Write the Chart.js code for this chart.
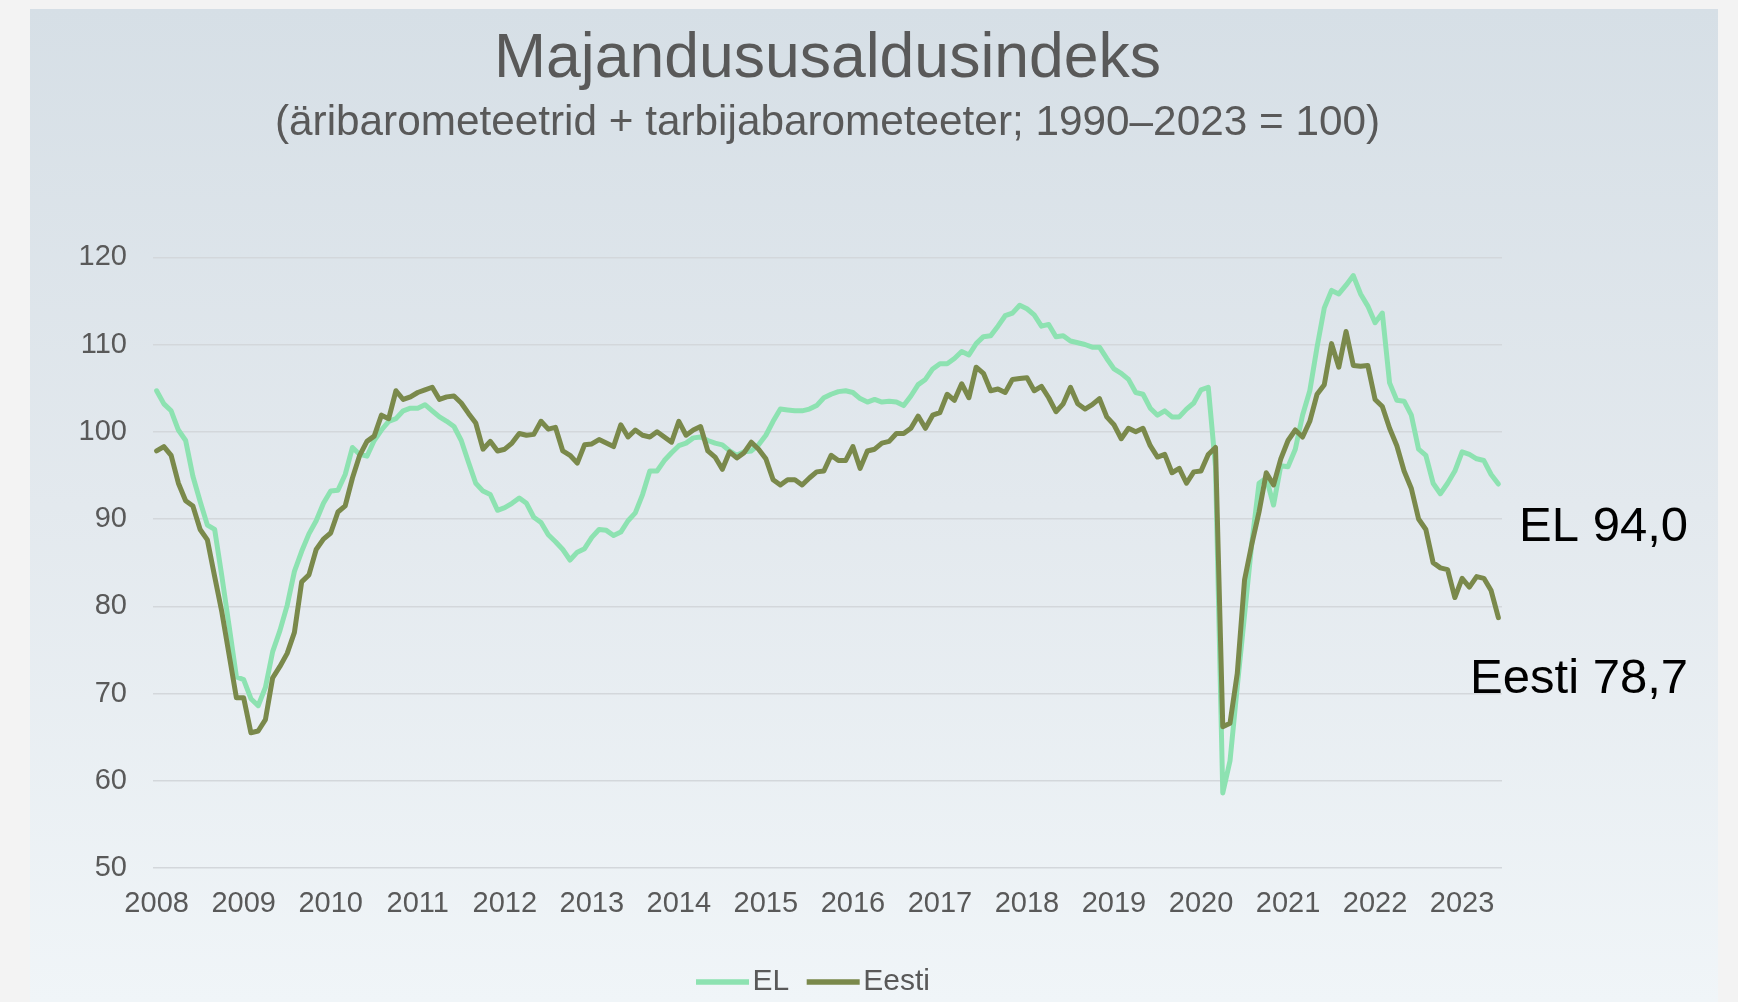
<!DOCTYPE html>
<html lang="et">
<head>
<meta charset="utf-8">
<title>Majandususaldusindeks</title>
<script src="https://cdn.jsdelivr.net/npm/chart.js@4.4.1/dist/chart.umd.min.js"></script>
<style>
    html, body {
        margin: 0;
        padding: 0;
        width: 1738px;
        height: 1002px;
        overflow: hidden;
        background: #f3f3f3;
    }
    #panel {
        position: absolute;
        left: 30px;
        top: 9px;
        width: 1688px;
        height: 993px;
        background: linear-gradient(to bottom, #d6dfe6 0%, #e3e9ee 50%, #f0f5f8 100%);
    }
    #wrap {
        position: absolute;
        left: 0;
        top: 0;
        width: 1738px;
        height: 1002px;
    }
</style>
</head>
<body>
<div id="panel"></div>
<div id="wrap"><canvas id="esi-chart"></canvas></div>
<script>
// Monthly data, Jan 2008 .. Jun 2023
const years = ['2008', '2009', '2010', '2011', '2012', '2013', '2014', '2015',
    '2016', '2017', '2018', '2019', '2020', '2021', '2022', '2023'];
const monthNums = ['01', '02', '03', '04', '05', '06', '07', '08', '09', '10', '11', '12'];
const lastYearMonths = 6;

// EL
const elValues = [
    104.7, 103.2, 102.4, 100.2, 99.0, 94.9, 92.0, 89.3, 88.8, 83.4, 77.7, 71.9,
    71.6, 69.4, 68.6, 70.7, 74.8, 77.2, 80.1, 84.0, 86.3, 88.3, 89.8, 91.8,
    93.2, 93.3, 95.1, 98.2, 97.4, 97.2, 99.0, 100.2, 101.2, 101.5, 102.4, 102.7,
    102.7, 103.1, 102.4, 101.7, 101.2, 100.6, 99.0, 96.5, 94.1, 93.2, 92.8, 91.0,
    91.3, 91.8, 92.4, 91.8, 90.2, 89.6, 88.2, 87.4, 86.5, 85.3, 86.2, 86.6,
    87.9, 88.8, 88.7, 88.1, 88.5, 89.8, 90.7, 92.8, 95.5, 95.5, 96.7, 97.6,
    98.4, 98.7, 99.3, 99.4, 99.0, 98.7, 98.5, 97.8, 97.3, 97.7, 97.8, 98.5,
    99.6, 101.2, 102.6, 102.5, 102.4, 102.4, 102.6, 103.0, 103.9, 104.3, 104.6, 104.7,
    104.5, 103.8, 103.4, 103.7, 103.4, 103.5, 103.4, 103.0, 104.1, 105.4, 106.0, 107.2,
    107.8, 107.8, 108.4, 109.2, 108.8, 110.1, 110.9, 111.0, 112.1, 113.3, 113.6, 114.5,
    114.1, 113.4, 112.1, 112.3, 110.9, 111.0, 110.4, 110.2, 110.0, 109.7, 109.7, 108.4,
    107.2, 106.7, 106.0, 104.5, 104.3, 102.7, 101.9, 102.4, 101.7, 101.7, 102.6, 103.3,
    104.8, 105.1, 96.0, 58.6, 62.3, 70.8, 79.0, 87.2, 94.1, 94.7, 91.6, 96.1,
    96.0, 98.0, 101.9, 104.7, 109.7, 114.2, 116.2, 115.8, 116.8, 117.9, 115.8, 114.4,
    112.5, 113.6, 105.6, 103.6, 103.5, 101.9, 98.0, 97.3, 94.1, 92.9, 94.1, 95.5,
    97.7, 97.4, 96.9, 96.7, 95.1, 94.0
];

// Eesti
const eestiValues = [
    97.8, 98.3, 97.3, 94.1, 92.1, 91.5, 88.8, 87.6, 83.4, 79.3, 74.4, 69.5,
    69.5, 65.5, 65.7, 67.0, 71.8, 73.1, 74.6, 77.0, 82.8, 83.6, 86.5, 87.7,
    88.4, 90.8, 91.5, 94.7, 97.3, 98.9, 99.5, 101.9, 101.5, 104.7, 103.7, 104.0,
    104.5, 104.8, 105.1, 103.7, 104.0, 104.1, 103.3, 102.1, 101.0, 98.0, 98.9, 97.8,
    98.0, 98.7, 99.8, 99.6, 99.7, 101.2, 100.3, 100.5, 97.8, 97.3, 96.4, 98.5,
    98.6, 99.1, 98.7, 98.3, 100.8, 99.4, 100.2, 99.6, 99.4, 100.0, 99.4, 98.8,
    101.2, 99.6, 100.2, 100.6, 97.8, 97.1, 95.7, 97.7, 97.0, 97.6, 98.8, 98.0,
    96.9, 94.5, 93.9, 94.5, 94.5, 93.9, 94.7, 95.4, 95.5, 97.3, 96.7, 96.7,
    98.3, 95.8, 97.8, 98.0, 98.7, 98.9, 99.8, 99.8, 100.4, 101.8, 100.4, 101.9,
    102.2, 104.3, 103.6, 105.5, 103.9, 107.4, 106.7, 104.7, 104.9, 104.5, 106.0, 106.1,
    106.2, 104.7, 105.2, 103.9, 102.3, 103.2, 105.1, 103.2, 102.6, 103.1, 103.8, 101.7,
    100.8, 99.2, 100.4, 100.0, 100.4, 98.4, 97.1, 97.4, 95.3, 95.8, 94.1, 95.4,
    95.5, 97.4, 98.2, 66.2, 66.6, 72.3, 83.0, 87.1, 90.8, 95.3, 93.9, 96.9,
    99.0, 100.2, 99.4, 101.2, 104.3, 105.4, 110.1, 107.4, 111.5, 107.6, 107.5, 107.6,
    103.7, 102.9, 100.4, 98.4, 95.5, 93.5, 90.0, 88.8, 85.0, 84.4, 84.2, 81.0,
    83.2, 82.2, 83.4, 83.2, 81.8, 78.7
];

// Y axis ticks
const yMin = 50;
const yMax = 120;
const yStep = 10;

const EL_COLOR = '#8de2b1';
const EESTI_COLOR = '#7a894b';
const TEXT_COLOR = '#595959';
const FONT_FAMILY = "'Liberation Sans', Arial, Helvetica, sans-serif";

// Month labels like "2008-01"
const monthLabels = [];
years.forEach((y, yi) => {
    const count = yi === years.length - 1 ? lastYearMonths : 12;
    for (let m = 0; m < count; m++) monthLabels.push(y + '-' + monthNums[m]);
});

// Big end-of-line labels ("EL 94,0", "Eesti 78,7")
const endLabelsPlugin = {
    id: 'endLabels',
    afterDatasetsDraw(chart, args, opts) {
        const { ctx, chartArea } = chart;
        ctx.save();
        ctx.font = `${opts.size}px ${FONT_FAMILY}`;
        ctx.fillStyle = opts.color;
        ctx.textAlign = 'right';
        ctx.textBaseline = 'middle';
        chart.data.datasets.forEach((ds, i) => {
            const meta = chart.getDatasetMeta(i);
            const last = meta.data[meta.data.length - 1];
            const val = ds.data[ds.data.length - 1];
            const text = ds.label + ' ' + val.toFixed(1).replace('.', ',');
            ctx.fillText(text, chartArea.right + opts.dx, last.y + opts.dy[i]);
        });
        ctx.restore();
    }
};

// Compact legend: line sample directly followed by the label
const lineLegendPlugin = {
    id: 'lineLegend',
    afterDraw(chart, args, opts) {
        const { ctx, chartArea } = chart;
        ctx.save();
        ctx.font = `${opts.size}px ${FONT_FAMILY}`;
        ctx.textBaseline = 'middle';
        ctx.textAlign = 'left';
        let x = chartArea.left + opts.offsetX;
        const y = chartArea.bottom + opts.offsetY;
        chart.data.datasets.forEach(ds => {
            ctx.strokeStyle = ds.borderColor;
            ctx.lineWidth = opts.lineWidth;
            ctx.lineCap = 'butt';
            ctx.beginPath();
            ctx.moveTo(x, y);
            ctx.lineTo(x + opts.sampleWidth, y);
            ctx.stroke();
            x += opts.sampleWidth + opts.textGap;
            ctx.fillStyle = opts.color;
            ctx.fillText(ds.label, x, y);
            x += ctx.measureText(ds.label).width + opts.itemGap;
        });
        ctx.restore();
    }
};

function renderChart() {
    const ctx = document.getElementById('esi-chart');

    new Chart(ctx, {
        type: 'line',
        data: {
            labels: monthLabels,
            datasets: [
                {
                    label: 'EL',
                    data: elValues,
                    borderColor: EL_COLOR,
                    backgroundColor: EL_COLOR,
                    borderWidth: 5,
                    pointRadius: 0,
                    tension: 0,
                    borderJoinStyle: 'round',
                    borderCapStyle: 'round',
                    order: 1
                },
                {
                    label: 'Eesti',
                    data: eestiValues,
                    borderColor: EESTI_COLOR,
                    backgroundColor: EESTI_COLOR,
                    borderWidth: 5,
                    pointRadius: 0,
                    tension: 0,
                    borderJoinStyle: 'round',
                    borderCapStyle: 'round',
                    order: 0
                }
            ]
        },
        options: {
            responsive: true,
            maintainAspectRatio: false,
            animation: false,
            layout: {
                padding: { top: 22.5, right: 236, bottom: 45, left: 0 }
            },
            plugins: {
                title: {
                    display: true,
                    text: 'Majandususaldusindeks',
                    color: TEXT_COLOR,
                    fullSize: false,
                    font: { family: FONT_FAMILY, size: 62.5, weight: 'normal' },
                    padding: { top: 0, bottom: 0 }
                },
                subtitle: {
                    display: true,
                    text: '(äribarometeetrid + tarbijabarometeeter; 1990–2023 = 100)',
                    color: TEXT_COLOR,
                    fullSize: false,
                    font: { family: FONT_FAMILY, size: 42.3, weight: 'normal' },
                    padding: { top: 0.5, bottom: 108.5 }
                },
                legend: { display: false },
                tooltip: { enabled: false },
                endLabels: {
                    size: 49,
                    color: '#000000',
                    dx: 186,
                    dy: [43, 62]
                },
                lineLegend: {
                    size: 30,
                    color: TEXT_COLOR,
                    offsetX: 543,
                    offsetY: 114,
                    sampleWidth: 53,
                    lineWidth: 5.5,
                    textGap: 3.5,
                    itemGap: 17.5
                }
            },
            scales: {
                x: {
                    type: 'category',
                    offset: true,
                    grid: { display: false, drawTicks: false },
                    border: { display: false },
                    ticks: {
                        autoSkip: false,
                        maxRotation: 0,
                        minRotation: 0,
                        padding: 19,
                        color: TEXT_COLOR,
                        font: { family: FONT_FAMILY, size: 29 },
                        callback: function (value) {
                            const lab = this.getLabelForValue(value);
                            return lab.endsWith('-01') ? lab.slice(0, 4) : '';
                        }
                    },
                    afterFit: function (scale) {
                        scale.height = 89;
                    }
                },
                y: {
                    min: yMin,
                    max: yMax,
                    grid: {
                        color: '#d3d7db',
                        lineWidth: 1.5,
                        drawTicks: false
                    },
                    border: { display: false },
                    ticks: {
                        stepSize: yStep,
                        padding: 26,
                        color: TEXT_COLOR,
                        font: { family: FONT_FAMILY, size: 29 }
                    },
                    afterFit: function (scale) {
                        scale.width = 153;
                    }
                }
            }
        },
        plugins: [endLabelsPlugin, lineLegendPlugin]
    });
}

renderChart();
</script>
</body>
</html>
